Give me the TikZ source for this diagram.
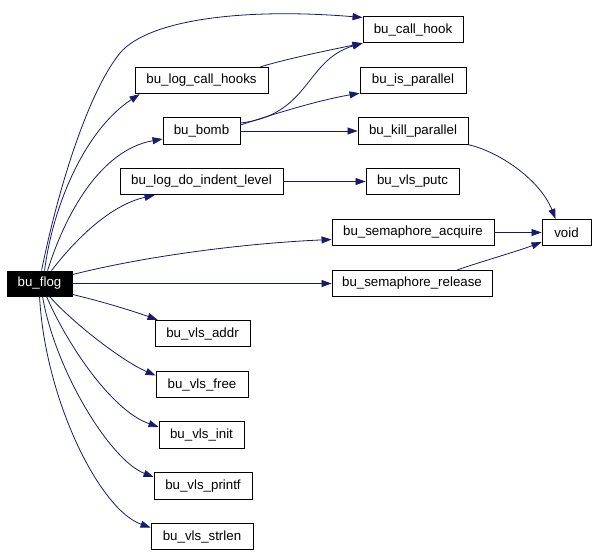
\documentclass[tikz,border=0pt]{standalone}
\usepackage{fontspec}
\setmainfont{Liberation Sans}
\usetikzlibrary{arrows.meta,calc}
\definecolor{edgeblue}{HTML}{191970}
\tikzset{
  fn/.style={draw=black, line width=0.9pt, fill=white, inner sep=0pt,
    minimum height=26.5pt, font=\fontsize{13.3}{16}\selectfont, text=black},
  root/.style={fn, fill=black, text=white},
  edge/.style={draw=edgeblue, line width=0.8pt,
    -{Triangle[length=10pt,width=7pt]}}
}
\begin{document}
\begin{tikzpicture}[x=1pt,y=-1pt]
\useasboundingbox[fill=white] (0,0) rectangle (595,555);
% nodes
\node[fn, minimum width=100pt] (call_hook) at (413,29.5) {bu\_call\_hook};
\node[fn, minimum width=133pt] (log_call_hooks) at (201.5,80.5) {bu\_log\_call\_hooks};
\node[fn, minimum width=106pt] (is_parallel) at (413,80.5) {bu\_is\_parallel};
\node[fn, minimum width=77pt] (bomb) at (201.5,131) {bu\_bomb};
\node[fn, minimum width=110pt] (kill_parallel) at (413,131) {bu\_kill\_parallel};
\node[fn, minimum width=163pt] (indent) at (201.5,181.5) {bu\_log\_do\_indent\_level};
\node[fn, minimum width=93pt] (putc) at (412.5,181.5) {bu\_vls\_putc};
\node[fn, minimum width=162pt] (acquire) at (413,232.5) {bu\_semaphore\_acquire};
\node[fn, minimum width=49pt] (void) at (566.5,232.5) {void};
\node[fn, minimum width=160pt] (release) at (412,283.5) {bu\_semaphore\_release};
\node[root, minimum width=65pt, minimum height=25pt] (flog) at (39.5,283.5) {bu\_flog};
\node[fn, minimum width=95pt] (vls_addr) at (202.5,333.5) {bu\_vls\_addr};
\node[fn, minimum width=92pt] (vls_free) at (202,384.5) {bu\_vls\_free};
\node[fn, minimum width=85pt] (vls_init) at (201.5,435) {bu\_vls\_init};
\node[fn, minimum width=98pt] (vls_printf) at (203,486) {bu\_vls\_printf};
\node[fn, minimum width=102pt] (vls_strlen) at (202,536.5) {bu\_vls\_strlen};
% edges
\draw[edge] ($(flog.north west)+(35,0)$) .. controls (60,180) and (90,90) .. (120,53)
  .. controls (150,18) and (250,8) .. ($(call_hook.west)+(0,-12)$);
\draw[edge] ($(flog.north west)+(38,0)$) .. controls (53,205) and (85,130) .. ($(log_call_hooks.south west)+(5,0)$);
\draw[edge] ($(flog.north west)+(41,0)$) .. controls (65,215) and (100,150) .. ($(bomb.west)+(0,8)$);
\draw[edge] ($(flog.north west)+(45,0)$) .. controls (75,240) and (110,205) .. ($(indent.south west)+(35,0)$);
\draw[edge] ($(flog.north east)+(0,4)$) .. controls (150,255) and (250,243) .. ($(acquire.west)+(0,7)$);
\draw[edge] (flog.east) -- (release.west);
\draw[edge] ($(flog.south east)+(0,-2)$) .. controls (100,301) and (130,310) .. ($(vls_addr.north west)+(3,0)$);
\draw[edge] ($(flog.south west)+(43,0)$) .. controls (70,320) and (120,360) .. ($(vls_free.west)+(0,-9)$);
\draw[edge] ($(flog.south west)+(40,0)$) .. controls (65,340) and (110,410) .. ($(vls_init.west)+(0,-8)$);
\draw[edge] ($(flog.south west)+(36,0)$) .. controls (55,370) and (110,460) .. ($(vls_printf.west)+(0,-9)$);
\draw[edge] ($(flog.south west)+(33,0)$) .. controls (45,400) and (100,510) .. ($(vls_strlen.west)+(0,-9)$);
\draw[edge] ($(log_call_hooks.north east)+(-8,0)$) .. controls (290,58) and (330,50) .. (call_hook.south west);
\draw[edge] ($(bomb.east)+(0,-8)$) .. controls (310,115) and (305,60) .. (call_hook.south west);
\draw[edge] ($(bomb.east)+(0,-6)$) .. controls (280,112) and (320,100) .. ($(is_parallel.south west)+(0,-1)$);
\draw[edge] (bomb.east) -- (kill_parallel.west);
\draw[edge] (indent.east) -- (putc.west);
\draw[edge] (kill_parallel.south east) .. controls (500,152) and (540,180) .. ($(void.north west)+(14,0)$);
\draw[edge] (acquire.east) -- (void.west);
\draw[edge] ($(release.north east)+(-35,0)$) .. controls (480,262) and (515,252) .. ($(void.south west)+(0,-4)$);
\end{tikzpicture}
\end{document}
